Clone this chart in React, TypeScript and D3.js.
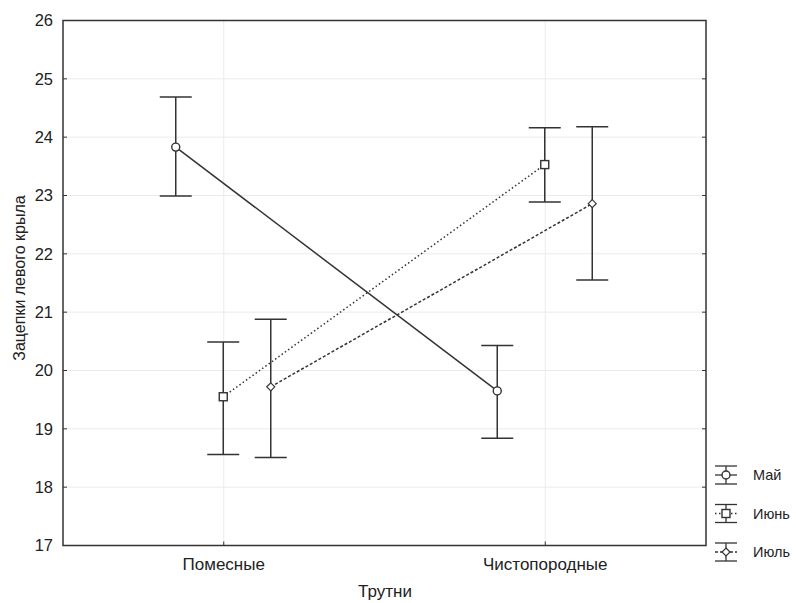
import React from "react";
import * as d3 from "d3";

// Mean number of hamuli on the left wing with confidence intervals
const groups = ["Помесные", "Чистопородные"];
const months = ["Май", "Июнь", "Июль"];
const meanMay = [23.83, 19.65];
const lowMay = [22.99, 18.84];
const highMay = [24.69, 20.43];
const meanJune = [19.55, 23.53];
const lowJune = [18.56, 22.89];
const highJune = [20.49, 24.16];
const meanJuly = [19.72, 22.86];
const lowJuly = [18.51, 21.55];
const highJuly = [20.88, 24.18];
const yTicks = [17, 18, 19, 20, 21, 22, 23, 24, 25, 26];

const series = [
  { name: months[0], mean: meanMay, low: lowMay, high: highMay, dash: "none", marker: "circle" },
  { name: months[1], mean: meanJune, low: lowJune, high: highJune, dash: "1.5,2.5", marker: "square" },
  { name: months[2], mean: meanJuly, low: lowJuly, high: highJuly, dash: "3,2", marker: "diamond" },
];

const W = 796;
const H = 603;
const M = { left: 63, right: 706, top: 20.5, bottom: 545.5 };
const INK = "#333";
const FONT = "Liberation Sans, Arial, sans-serif";

function Marker({ type, x, y }: { type: string; x: number; y: number }) {
  if (type === "circle")
    return <circle cx={x} cy={y} r={4} fill="#fff" stroke={INK} strokeWidth={1.4} />;
  if (type === "square")
    return <rect x={x - 4} y={y - 4} width={8} height={8} fill="#fff" stroke={INK} strokeWidth={1.4} />;
  const s = 4;
  return (
    <path
      d={`M${x},${y - s}L${x + s},${y}L${x},${y + s}L${x - s},${y}Z`}
      fill="#fff"
      stroke={INK}
      strokeWidth={1.2}
    />
  );
}

export default function App() {
  const x = d3.scalePoint<string>().domain(groups).range([M.left, M.right]).padding(0.5);
  const offset = d3.scalePoint<string>().domain(months).range([-48, 47]);
  const y = d3.scaleLinear().domain([17, 26]).range([M.bottom, M.top]);
  const capHalf = 16;

  return (
    <svg width={W} height={H} style={{ position: "absolute", left: 0, top: 0, background: "#fff" }}>
      {/* grid */}
      {yTicks.slice(1, -1).map((t) => (
        <line key={"gy" + t} x1={M.left} x2={M.right} y1={y(t)} y2={y(t)} stroke="#ebebeb" strokeWidth={1} />
      ))}
      {groups.map((g) => (
        <line key={"gx" + g} x1={x(g)} x2={x(g)} y1={M.top} y2={M.bottom} stroke="#ebebeb" strokeWidth={1} />
      ))}

      {/* series */}
      {series.map((s) => {
        const xs = groups.map((g) => (x(g) as number) + (offset(s.name) as number));
        const pathD = d3
          .line<number>()
          .x((_, i) => xs[i])
          .y((d) => y(d))(s.mean) as string;
        return (
          <g key={s.name}>
            {s.mean.map((m, i) => (
              <g key={i} stroke={INK} strokeWidth={1.5}>
                <line x1={xs[i]} x2={xs[i]} y1={y(s.high[i])} y2={y(s.low[i])} />
                <line x1={xs[i] - capHalf} x2={xs[i] + capHalf} y1={y(s.high[i])} y2={y(s.high[i])} />
                <line x1={xs[i] - capHalf} x2={xs[i] + capHalf} y1={y(s.low[i])} y2={y(s.low[i])} />
              </g>
            ))}
            <path d={pathD} fill="none" stroke={INK} strokeWidth={1.5} strokeDasharray={s.dash} />
            {s.mean.map((m, i) => (
              <Marker key={"m" + i} type={s.marker} x={xs[i]} y={y(m)} />
            ))}
          </g>
        );
      })}

      {/* frame */}
      <rect
        x={M.left}
        y={M.top}
        width={M.right - M.left}
        height={M.bottom - M.top}
        fill="none"
        stroke={INK}
        strokeWidth={1.5}
      />
      {yTicks.map((t) => (
        <g key={"t" + t}>
          <line x1={M.left} x2={M.left + 4} y1={y(t)} y2={y(t)} stroke={INK} />
          <line x1={M.right - 4} x2={M.right} y1={y(t)} y2={y(t)} stroke={INK} />
          <text
            x={53}
            y={y(t)}
            dy="0.35em"
            textAnchor="end"
            fontFamily={FONT}
            fontSize={16.5}
            fill="#222"
          >
            {t}
          </text>
        </g>
      ))}
      {groups.map((g) => (
        <g key={"xt" + g}>
          <line x1={x(g)} x2={x(g)} y1={M.bottom} y2={M.bottom - 4} stroke={INK} />
          <text x={x(g)} y={569.5} textAnchor="middle" fontFamily={FONT} fontSize={17} fill="#222">
            {g}
          </text>
        </g>
      ))}
      <text x={385} y={597} textAnchor="middle" fontFamily={FONT} fontSize={17} fill="#222">
        Трутни
      </text>
      <text
        transform={`translate(25,278) rotate(-90)`}
        textAnchor="middle"
        fontFamily={FONT}
        fontSize={16}
        fill="#222"
      >
        Зацепки левого крыла
      </text>

      {/* legend */}
      {series.map((s, i) => {
        const cy = 475 + i * 38.5;
        const cx = 726;
        return (
          <g key={"lg" + s.name}>
            <g stroke={INK} strokeWidth={1.3}>
              <line x1={cx - 11} x2={cx + 11} y1={cy - 9} y2={cy - 9} />
              <line x1={cx - 11} x2={cx + 11} y1={cy + 9} y2={cy + 9} />
              <line x1={cx} x2={cx} y1={cy - 9} y2={cy + 9} />
              <line x1={cx - 11} x2={cx + 11} y1={cy} y2={cy} strokeDasharray={s.dash} />
            </g>
            <Marker type={s.marker} x={cx} y={cy} />
            <text x={753} y={cy} dy="0.35em" fontFamily={FONT} fontSize={14.5} fill="#222">
              {s.name}
            </text>
          </g>
        );
      })}
    </svg>
  );
}
